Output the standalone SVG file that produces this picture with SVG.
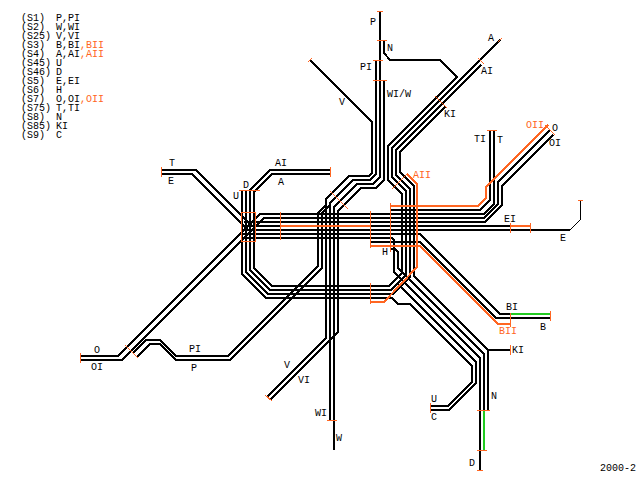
<svg xmlns="http://www.w3.org/2000/svg" width="640" height="480" viewBox="0 0 640 480">
<style>
text{font-family:"Liberation Mono","DejaVu Sans Mono",monospace;font-size:10px;fill:#000}
.o{fill:#ff6622}
#labels text{text-anchor:middle}
#connectors polyline{fill:none;stroke:#000;stroke-width:2;shape-rendering:crispEdges}
#connectors polyline.or{stroke:#ff6622}
#connectors polyline.gr{stroke:#22cc22}
#connectors polyline.thin{stroke-width:1}
#ticks path{fill:none;stroke:#ff6622;stroke-width:1;shape-rendering:crispEdges}
</style>
<rect width="640" height="480" fill="#fff"/>
<g id="connectors">
<polyline points="310,60 372,122 372,173 369,176 349,176 326,199 326,205 318,213 318,266 228,356 176,356 160,340 146,340 133,353"/>
<polyline points="376,60 376,174 370,180 353,180 330,203 330,205 322,213 322,268 230,360 176,360 160,344 150,344 137,357"/>
<polyline points="380,11 380,177 373,184 357,184 334,207 334,450"/>
<polyline points="384,80 384,180 376,188 361,188 338,211 338,332 270,400"/>
<polyline points="326,205 326,338 267,397"/>
<polyline points="330,205 330,420"/>
<polyline points="384,40 384,53 390,60 440,60 457,77 388,146 388,180 402,194 402,273 389,286 272,286 254,268 254,192 272,174 330,174"/>
<polyline points="500,40 392,148 392,177 406,191 406,275 391,290 270,290 250,270 250,190 270,170 330,170"/>
<polyline points="481,65 396,150 396,175 410,189 410,277 393,294 268,294 246,272 246,190"/>
<polyline points="445,107 400,152 400,172 414,186 414,276 488,350 488,410"/>
<polyline points="488,350 510,350"/>
<polyline points="242,190 242,274 266,298 392,298 398,304 410,304 472,366 472,382 448,406 430,406"/>
<polyline points="398,284 476,362 476,383 449,410 430,410"/>
<polyline points="246,238 392,238 394,240 394,272 480,358 480,470"/>
<polyline points="390,249 395,249 398,252 398,268 484,354 484,410"/>
<polyline class="gr" points="484,410 484,450"/>
<polyline points="242,234 420,234 500,314 510,314"/>
<polyline class="gr" points="510,314 550,314"/>
<polyline points="370,242 420,242 496,318 550,318"/>
<polyline class="or" points="370,246 420,246 498,324 510,324"/>
<polyline points="80,356 118,356 260,214 484,214 494,204 494,130"/>
<polyline points="80,360 122,360 264,218 484,218 498,204 498,182 550,130"/>
<polyline points="244,222 485,222 502,205 502,186 553,135"/>
<polyline points="161,170 196,170 252,226 280,226"/>
<polyline class="or" points="280,226 370,226"/>
<polyline points="370,226 510,226"/>
<polyline class="or" points="510,226 530,226"/>
<polyline points="161,174 192,174 248,230 570,230"/>
<polyline class="thin" points="570,230 580,220 580,200"/>
<polyline points="390,210 480,210 490,200 490,130"/>
<polyline class="or" points="390,206 478,206 486,198 486,187 548,125"/>
<polyline class="or" points="407,174 417,184 417,267 384,302 370,302"/>
</g>
<g id="ticks">
<path d="M377 11.500h6M377 40.500h10M373 60.500h10M373 80.500h14"/>
<path d="M498 42l4-4M478 58l6 6M435 96l12 12M308 62l4-4"/>
<path d="M487 130.500h10M545 125l10 10M510.500 223v10M530.500 223v10M578 200.500h5"/>
<path d="M161 167v10M330.500 167v10M239 190.500h21M280.500 212v28"/>
<path d="M241 212h14v29.500h-14zM330 191l18 18M392 189l16-16"/>
<path d="M370.500 211v37M390.500 203v49M370.500 283v21"/>
<path d="M510.500 313v14M550.500 311v10M510.500 345v10"/>
<path d="M430.500 403v10M477 410.500h13M477 450.500h10M477 470.500h6"/>
<path d="M80.500 353v10M125 345l13 13M327 420.500h10M265 395l7 6"/>
</g>
<g id="labels">
<text x="373" y="25">P</text><text x="390" y="51">N</text><text x="366" y="70">PI</text><text x="399" y="97">WI/W</text>
<text x="342" y="105">V</text><text x="450" y="117">KI</text><text x="487" y="74">AI</text><text x="491" y="41">A</text>
<text x="480" y="142">TI</text><text x="500" y="143">T</text>
<text class="o" x="535" y="128">OII</text><text x="555" y="131">O</text><text x="555" y="146">OI</text>
<text x="510" y="222">EI</text><text x="563" y="241">E</text>
<text x="172" y="166">T</text><text x="171" y="184">E</text><text x="281" y="166">AI</text><text x="281" y="185">A</text>
<text x="246" y="188">D</text><text x="236" y="199">U</text>
<text class="o" x="422" y="178">AII</text><text x="385" y="255">H</text>
<text x="512" y="310">BI</text><text x="543" y="330">B</text><text class="o" x="508" y="334">BII</text><text x="518" y="353">KI</text>
<text x="434" y="402">U</text><text x="434" y="420">C</text><text x="494" y="399">N</text><text x="472" y="466">D</text>
<text x="97" y="353">O</text><text x="97" y="370">OI</text><text x="195" y="352">PI</text><text x="194" y="371">P</text>
<text x="287" y="368">V</text><text x="304" y="383">VI</text><text x="321" y="416">WI</text><text x="339" y="441">W</text>
<text x="618" y="471">2000-2</text>
</g>
<g id="legend">
<text x="21" y="21">(S1)<tspan x="56">P,PI</tspan></text>
<text x="21" y="30">(S2)<tspan x="56">W,WI</tspan></text>
<text x="21" y="39">(S25)<tspan x="56">V,VI</tspan></text>
<text x="21" y="48">(S3)<tspan x="56">B,BI</tspan><tspan class="o">,BII</tspan></text>
<text x="21" y="57">(S4)<tspan x="56">A,AI</tspan><tspan class="o">,AII</tspan></text>
<text x="21" y="66">(S45)<tspan x="56">U</tspan></text>
<text x="21" y="75">(S46)<tspan x="56">D</tspan></text>
<text x="21" y="84">(S5)<tspan x="56">E,EI</tspan></text>
<text x="21" y="93">(S6)<tspan x="56">H</tspan></text>
<text x="21" y="102">(S7)<tspan x="56">O,OI</tspan><tspan class="o">,OII</tspan></text>
<text x="21" y="111">(S75)<tspan x="56">T,TI</tspan></text>
<text x="21" y="120">(S8)<tspan x="56">N</tspan></text>
<text x="21" y="129">(S85)<tspan x="56">KI</tspan></text>
<text x="21" y="138">(S9)<tspan x="56">C</tspan></text>
</g>
</svg>
